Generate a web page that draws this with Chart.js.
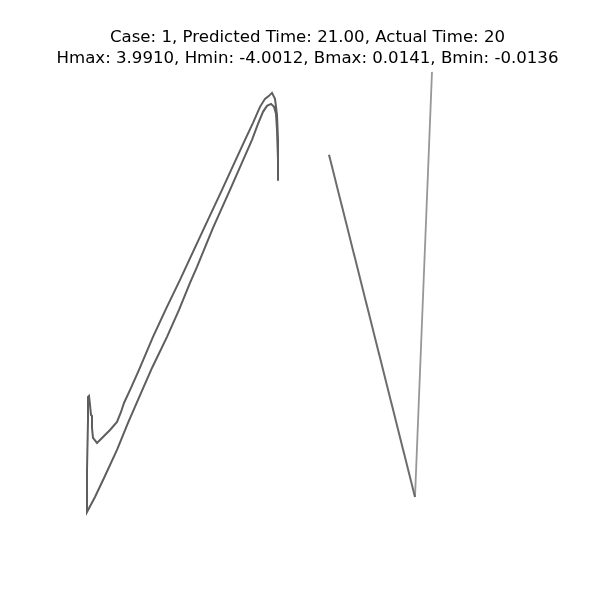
<!DOCTYPE html>
<html>
<head>
<meta charset="utf-8">
<script src="https://cdn.jsdelivr.net/npm/chart.js@4"></script>
<style>
  body { margin: 0; background: #fff; }
</style>
</head>
<body>
<canvas id="trace" width="600" height="600"></canvas>
<script>
// Title lines
const titleLines = [
  "Case: 1, Predicted Time: 21.00, Actual Time: 20",
  "Hmax: 3.9910, Hmin: -4.0012, Bmax: 0.0141, Bmin: -0.0136"
];

// Closed stroke on the left (inner edge up, spike, outer edge back down)
const loopX = [278, 278, 277, 276, 274, 271, 267, 263, 258, 252, 241, 230, 213, 197, 190, 179, 167, 152, 138, 128, 117, 104, 95, 87,
  87, 88, 88, 89, 90, 91, 92, 92, 93, 97,
  103, 110, 117, 121, 124, 131, 139, 153, 166, 180, 193, 207, 222, 233, 245, 253, 260, 265, 269, 272, 275, 277, 278, 278];
const loopY = [181, 160, 130, 114, 107, 104, 106, 112, 124, 140, 165, 190, 228, 267, 283, 310, 337, 368, 400, 423, 450, 478, 497, 512,
  470, 420, 397, 396, 405, 415, 416, 428, 438, 443,
  437, 430, 422, 412, 403, 388, 370, 337, 309, 280, 252, 222, 190, 166, 140, 123, 107, 99, 96, 93, 99, 115, 140, 178];

// V stroke on the right
const vLeftX = [329, 415];
const vLeftY = [155, 497];
const vRightX = [415, 432];
const vRightY = [497, 72];

function toPoints(xs, ys) {
  return xs.map((x, i) => ({ x: x, y: ys[i] }));
}

function strokeSet(xs, ys, color, width) {
  return {
    data: toPoints(xs, ys),
    showLine: true,
    borderColor: color,
    borderWidth: width,
    pointRadius: 0,
    tension: 0,
    fill: false
  };
}

new Chart(document.getElementById("trace"), {
  type: "scatter",
  data: {
    datasets: [
      strokeSet(loopX, loopY, "rgba(85, 85, 85, 0.95)", 2),
      strokeSet(vLeftX, vLeftY, "rgba(100, 100, 100, 0.95)", 2),
      strokeSet(vRightX, vRightY, "rgba(145, 145, 145, 0.95)", 1.8)
    ]
  },
  options: {
    responsive: false,
    animation: false,
    devicePixelRatio: 1,
    layout: { padding: { left: 15, right: 0, top: 0, bottom: 66 } },
    scales: {
      x: { display: false, min: 15, max: 600 },
      y: { display: false, min: 72, max: 534, reverse: true }
    },
    plugins: {
      legend: { display: false },
      tooltip: { enabled: false },
      title: {
        display: true,
        fullSize: false,
        text: titleLines,
        color: "#000",
        font: { family: "DejaVu Sans", size: 16.6, weight: "normal", lineHeight: 1.26 },
        padding: { top: 27, bottom: 3 }
      }
    }
  }
});
</script>
</body>
</html>
